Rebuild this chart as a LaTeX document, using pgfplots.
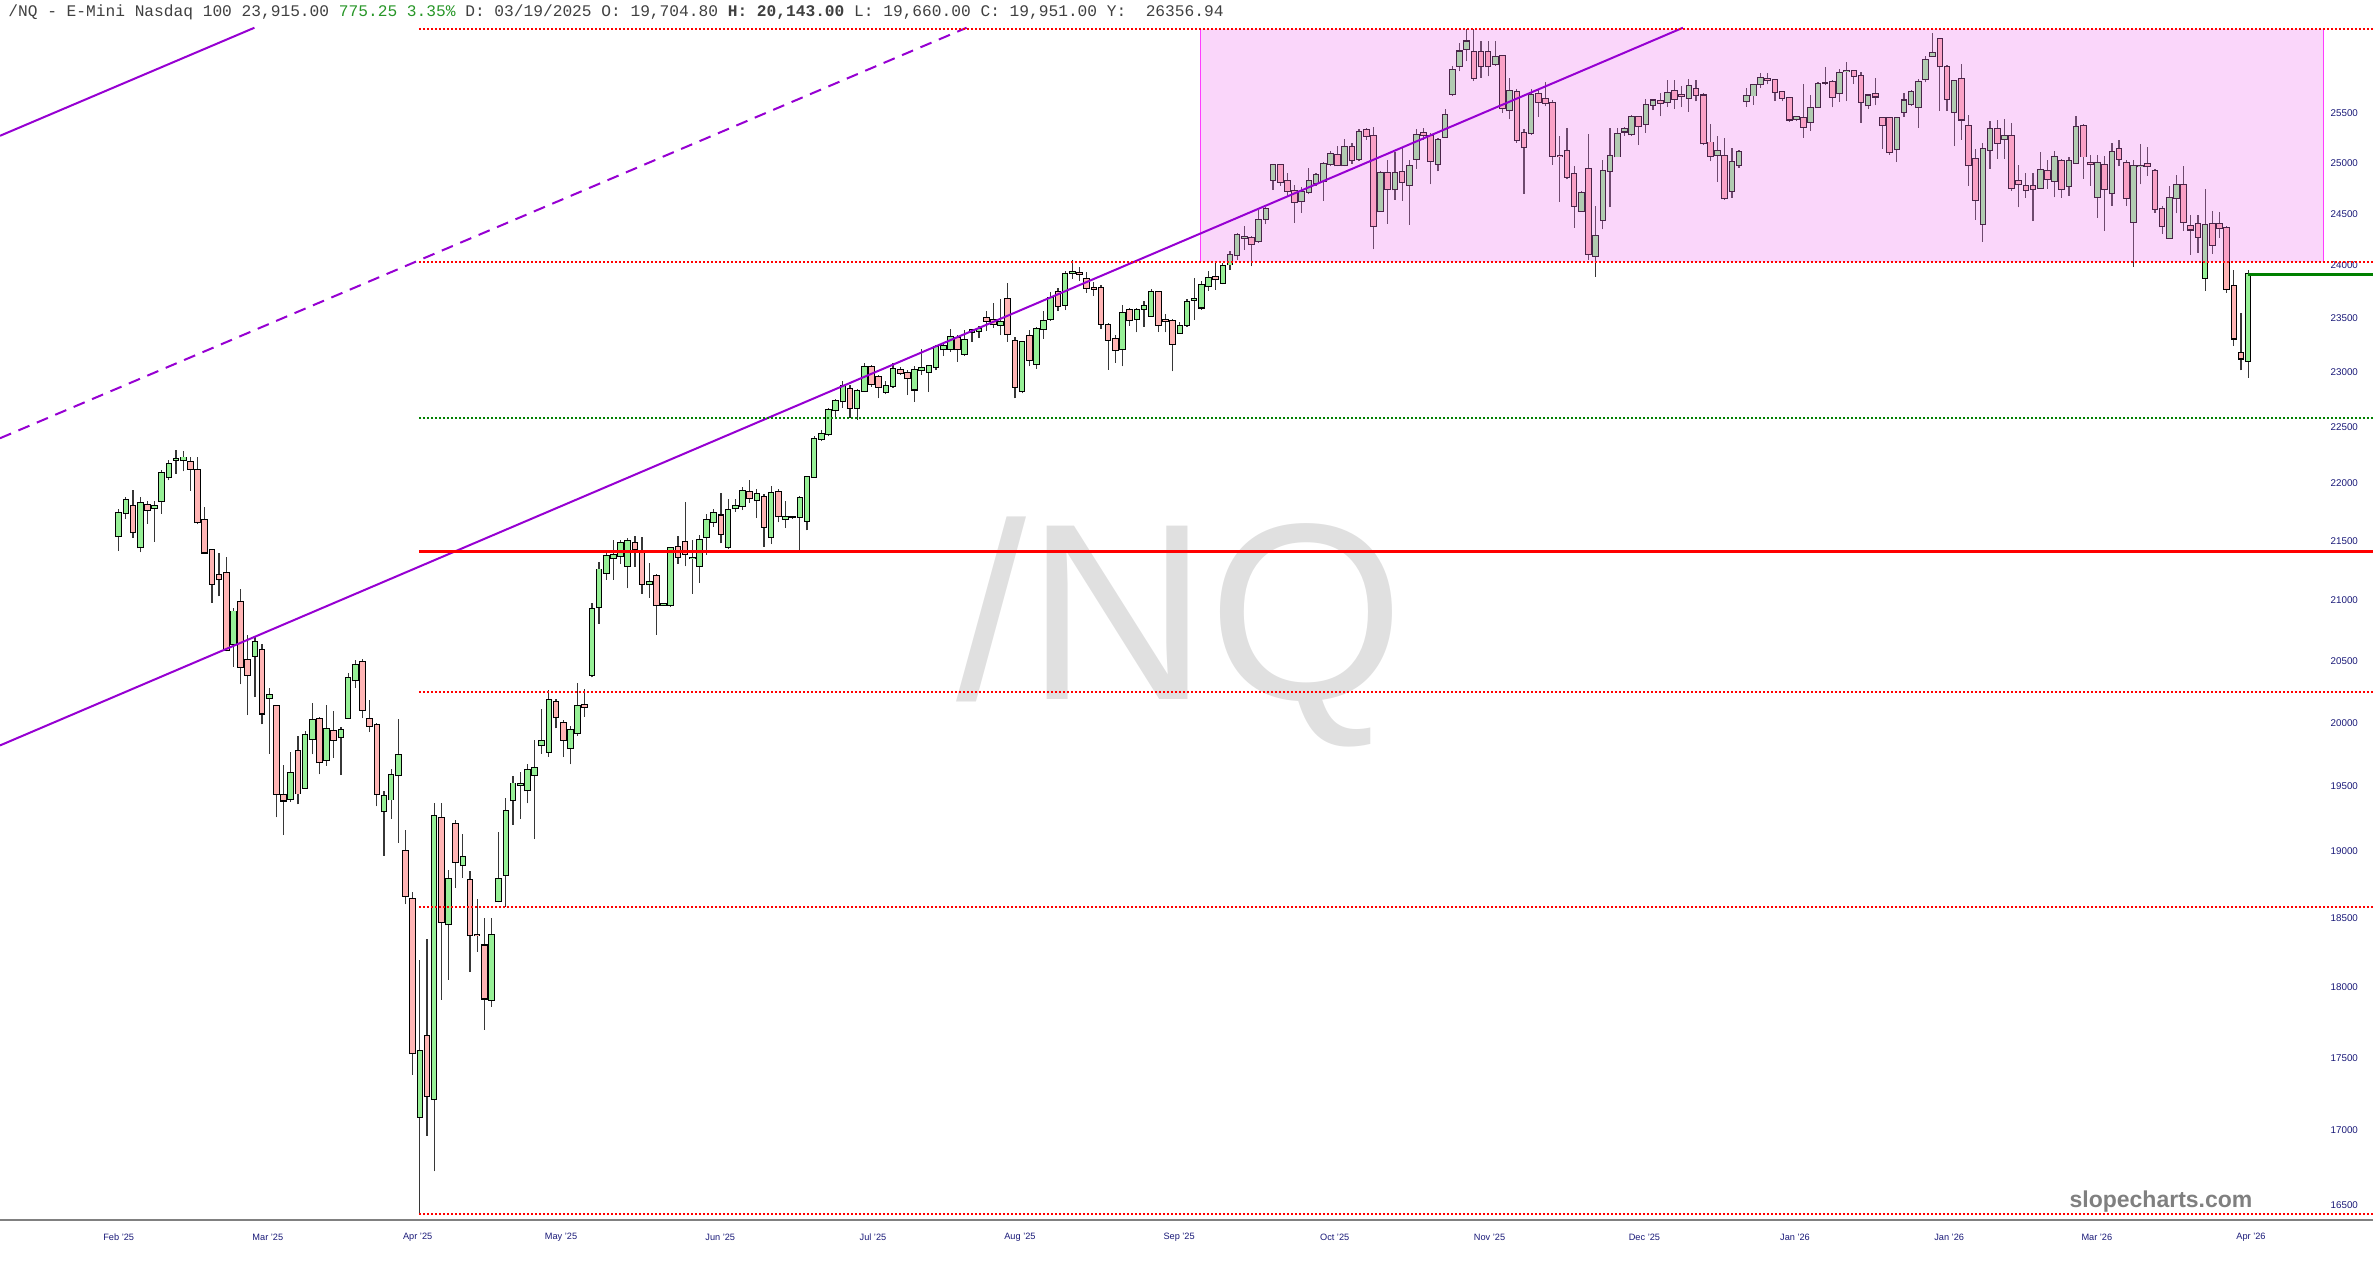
\documentclass[border=0pt]{standalone}
\usepackage{pgfplots}
\pgfplotsset{compat=1.18}
\usepackage{pgfplotstable}
\usepackage{fontspec}
\setmainfont{Liberation Sans}
\setmonofont{Liberation Mono}
\definecolor{upc}{RGB}{150,240,150}
\definecolor{dnc}{RGB}{255,180,180}
\definecolor{wickc}{RGB}{55,55,55}
\definecolor{purp}{RGB}{150,0,210}
\definecolor{navyl}{RGB}{25,25,120}
\definecolor{hgreen}{RGB}{40,150,40}
\definecolor{ovl}{RGB}{240,120,240}
\definecolor{lgreen}{RGB}{0,128,0}
\definecolor{magb}{RGB}{255,60,255}

\pgfplotstableread{
i o h l c
0 21545 21780 21415 21745
1 21747 21880 21693 21853
2 21800 21946 21530 21575
3 21448 21880 21404 21826
4 21813 21849 21651 21773
5 21790 21849 21495 21800
6 21849 22117 21737 22094
7 22054 22207 22027 22175
8 22210 22298 22085 22215
9 22207 22285 22108 22230
10 22194 22230 21937 22130
11 22121 22230 21645 21663
12 21685 21795 21396 21404
13 21425 21435 20978 21137
14 21214 21396 21033 21176
15 21232 21365 20576 20589
16 20636 20935 20451 20906
17 20986 21098 20307 20451
18 20509 20712 20060 20385
19 20542 20703 20203 20652
20 20589 20640 19986 20072
21 20199 20274 19753 20220
22 20130 20140 19261 19442
23 19430 19669 19124 19390
24 19403 19769 19380 19605
25 19773 19898 19360 19446
26 19488 19938 19484 19902
27 19873 20154 19749 20020
28 20027 20048 19592 19689
29 19705 20143 19660 19951
30 19934 20089 19724 19865
31 19886 19966 19588 19945
32 20039 20397 20031 20360
33 20340 20505 20278 20468
34 20492 20517 20035 20101
35 20031 20183 19926 19978
36 19982 19997 19347 19442
37 19307 19464 18969 19425
38 19398 19636 19249 19588
39 19588 20026 19065 19745
40 19003 19160 18603 18668
41 18641 18692 17381 17530
42 17090 18196 16445 17547
43 17652 18343 16961 17237
44 17213 19371 16723 19268
45 19253 19368 17909 18474
46 18455 18863 18054 18794
47 19210 19240 18729 18923
48 18896 19133 18801 18954
49 18785 18854 18106 18378
50 18380 18642 18252 18375
51 18300 18502 17694 17917
52 17907 18502 17858 18378
53 18627 19149 18617 18796
54 18822 19408 18587 19307
55 19393 19578 19204 19522
56 19510 19612 19245 19515
57 19469 19676 19368 19626
58 19590 19864 19095 19645
59 19822 20110 19752 19856
60 19772 20263 19732 20177
61 20166 20185 19957 20041
62 19998 20018 19729 19864
63 19799 19976 19673 19941
64 19920 20316 19898 20131
65 20140 20270 20046 20125
66 20383 20974 20364 20929
67 20940 21319 20802 21259
68 21232 21425 21174 21371
69 21361 21506 21174 21382
70 21371 21512 21304 21485
71 21292 21527 21099 21502
72 21487 21542 21282 21431
73 21400 21535 21054 21138
74 21135 21316 21023 21157
75 21205 21220 20714 20959
76 20960 20975 20950 20965
77 20959 21453 20944 21441
78 21454 21545 21308 21367
79 21491 21839 21285 21392
80 21355 21506 21054 21360
81 21289 21552 21145 21512
82 21536 21732 21385 21685
83 21667 21777 21623 21743
84 21722 21914 21481 21561
85 21452 21861 21431 21770
86 21784 21861 21753 21806
87 21806 21970 21768 21938
88 21923 22032 21830 21871
89 21854 21953 21699 21907
90 21886 21908 21452 21623
91 21536 21976 21475 21916
92 21930 21953 21661 21713
93 21692 21845 21613 21707
94 21707 21720 21695 21707
95 21707 21892 21415 21871
96 21674 22071 21593 22056
97 22056 22425 22056 22396
98 22396 22479 22375 22443
99 22443 22676 22419 22652
100 22652 22752 22584 22734
101 22734 22917 22676 22874
102 22847 22886 22584 22676
103 22676 22841 22568 22826
104 22826 23085 22817 23045
105 23045 23068 22866 22893
106 22953 22977 22760 22866
107 22820 22917 22796 22877
108 22871 23085 22857 23032
109 23020 23047 22977 22993
110 22993 23017 22790 22943
111 22841 23053 22732 23017
112 23017 23209 22977 23035
113 23000 23062 22817 23053
114 23048 23246 23017 23230
115 23209 23271 23147 23240
116 23215 23403 23184 23323
117 23317 23339 23094 23209
118 23169 23394 23147 23292
119 23369 23394 23280 23388
120 23378 23425 23317 23400
121 23503 23565 23378 23477
122 23480 23645 23410 23441
123 23434 23676 23342 23462
124 23683 23828 23280 23350
125 23289 23326 22760 22866
126 22826 23286 22805 23276
127 23332 23385 23053 23115
128 23076 23419 23030 23403
129 23403 23565 23308 23477
130 23495 23749 23477 23692
131 23745 23787 23565 23613
132 23622 23944 23575 23922
133 23929 24050 23872 23935
134 23925 23986 23850 23920
135 23872 23938 23740 23787
136 23787 23844 23707 23778
137 23787 23809 23398 23448
138 23438 23453 23023 23298
139 23308 23339 23085 23202
140 23209 23627 23053 23549
141 23581 23596 23430 23480
142 23490 23596 23366 23574
143 23588 23659 23418 23612
144 23524 23777 23518 23749
145 23745 23745 23370 23438
146 23487 23540 23366 23472
147 23472 23490 23007 23261
148 23361 23462 23361 23430
149 23438 23683 23419 23650
150 23672 23880 23487 23676
151 23600 23850 23580 23810
152 23800 23950 23760 23880
153 23885 24025 23770 23866
154 23834 24024 23818 23995
155 24008 24136 23960 24095
156 24095 24314 24056 24291
157 24265 24383 24150 24270
158 24265 24281 23990 24208
159 24233 24540 24218 24440
160 24450 24563 24395 24547
161 24833 24994 24735 24981
162 24977 24994 24772 24814
163 24824 24896 24676 24726
164 24726 24780 24411 24617
165 24627 24760 24508 24716
166 24716 24952 24688 24818
167 24804 24896 24776 24883
168 24824 25007 24627 24994
169 24994 25118 24967 25088
170 25081 25168 24967 24977
171 24977 25238 24967 25162
172 25162 25202 24994 25027
173 25040 25336 25017 25309
174 25329 25353 25235 25273
175 25273 25363 24152 24378
176 24523 24918 24517 24902
177 24895 25027 24404 24744
178 24737 25108 24636 24902
179 24915 25158 24627 24810
180 24780 25034 24392 24967
181 25040 25336 24943 25283
182 25300 25349 25235 25279
183 25273 25306 24787 25017
184 24994 25252 24917 25235
185 25262 25544 25262 25487
186 25702 25990 25676 25941
187 25986 26227 25932 26137
188 26165 26367 26035 26241
189 26133 26374 25829 25863
190 26133 26250 25863 25983
191 26133 26250 25880 25983
192 26010 26250 25990 26081
193 26088 26105 25504 25555
194 25531 25863 25437 25727
195 25717 25744 25202 25229
196 25296 25336 24695 25155
197 25303 25744 25283 25686
198 25697 25744 25464 25620
199 25645 25816 25570 25605
200 25605 25638 24984 25074
201 25074 25269 24617 25070
202 25118 25353 24836 24863
203 24886 24967 24363 24578
204 24530 24723 24523 24707
205 24943 25290 24056 24112
206 24093 24578 23891 24281
207 24442 25034 24347 24920
208 24920 25353 24560 25066
209 25064 25353 25057 25289
210 25316 25363 25272 25339
211 25286 25480 25272 25460
212 25460 25470 25178 25376
213 25393 25645 25306 25581
214 25587 25645 25531 25631
215 25625 25707 25470 25605
216 25611 25844 25564 25707
217 25727 25837 25544 25648
218 25686 25776 25564 25680
219 25658 25851 25514 25776
220 25750 25837 25621 25692
221 25682 25707 25178 25198
222 25205 25387 25017 25074
223 25084 25269 24810 25118
224 25074 25252 24636 24649
225 24726 25152 24656 25007
226 24984 25125 24952 25111
227 25625 25758 25564 25676
228 25682 25802 25587 25788
229 25802 25914 25758 25863
230 25850 25914 25795 25845
231 25845 25850 25630 25720
232 25720 25727 25621 25658
233 25658 25668 25413 25437
234 25446 25470 25420 25460
235 25453 25795 25252 25363
236 25413 25686 25319 25555
237 25561 25819 25555 25805
238 25815 25972 25785 25815
239 25819 25837 25561 25668
240 25707 25955 25617 25917
241 25930 26025 25625 25935
242 25932 25948 25805 25887
243 25880 25925 25404 25617
244 25580 25692 25543 25682
245 25695 25863 25580 25672
246 25450 25455 25140 25380
247 25450 25460 25084 25111
248 25135 25460 25010 25450
249 25513 25707 25464 25631
250 25591 25737 25577 25720
251 25564 25850 25353 25822
252 25850 26085 25816 26044
253 26085 26325 26085 26124
254 26263 26280 25526 25986
255 25976 26000 25526 25645
256 25513 25837 25168 25829
257 25856 26007 25235 25437
258 25373 25487 24772 24984
259 25040 25141 24442 24637
260 24403 25202 24227 25141
261 25131 25420 24943 25336
262 25343 25430 25040 25202
263 25242 25440 25040 25269
264 25269 25397 24726 24750
265 24824 24976 24560 24788
266 24772 24903 24656 24730
267 24770 24903 24426 24745
268 24755 25111 24740 24935
269 24925 25034 24745 24843
270 24824 25124 24660 25057
271 25017 25040 24656 24745
272 24770 25064 24676 25017
273 25000 25470 24994 25363
274 25373 25387 24843 25064
275 25000 25084 24772 24985
276 24667 25084 24459 25000
277 24984 25067 24333 24740
278 24700 25202 24578 25111
279 25141 25235 24967 25040
280 25000 25034 24578 24656
281 24422 25034 23982 24967
282 24965 25195 24787 24970
283 24990 25158 24872 24967
284 24920 24936 24508 24547
285 24547 24573 24305 24378
286 24265 24772 24258 24656
287 24656 24877 24501 24780
288 24780 24967 24333 24422
289 24378 24482 24104 24346
290 24402 24491 24121 24275
291 23881 24745 23760 24388
292 24402 24530 24110 24199
293 24402 24520 24265 24356
294 24356 24378 23737 23775
295 23800 23960 23239 23310
296 23175 23550 23015 23125
297 23100 23960 22950 23915
}\candles

\begin{document}
\begin{tikzpicture}
\useasboundingbox (0,0) rectangle (1186.5pt,630pt);
% watermark
\node[anchor=base, inner sep=0, font=\fontsize{126}{126}\selectfont, text=black!12] at (590pt,280pt) {/NQ};
\begin{axis}[
  at={(0pt,19.75pt)}, anchor=south west,
  scale only axis, width=1186.5pt, height=600.25pt,
  xmin=-16.555, xmax=314.41,
  ymode=log, ymin=16401.6, ymax=26471,
  enlargelimits=false,
  axis x line*=bottom, axis y line*=right,
  x axis line style={draw=gray, line width=1pt, -},
  y axis line style={draw=none},
  major tick length=0pt,
  xtick={0,20.8,41.7,61.7,83.9,105.2,125.7,147.9,169.6,191.2,212.8,233.8,255.3,275.9,297.4},
  xticklabels={Feb '25,Mar '25,Apr '25,May '25,Jun '25,Jul '25,Aug '25,Sep '25,Oct '25,Nov '25,Dec '25,Jan '26,Jan '26,Mar '26,Apr '26},
  xticklabel style={font=\fontsize{4.6}{5}\selectfont, text=navyl, anchor=center, yshift=-8.75pt},
  ytick={16500,17000,17500,18000,18500,19000,19500,20000,20500,21000,21500,22000,22500,23000,23500,24000,24500,25000,25500},
  yticklabels={16500,17000,17500,18000,18500,19000,19500,20000,20500,21000,21500,22000,22500,23000,23500,24000,24500,25000,25500},
  yticklabel style={font=\fontsize{4.9}{5}\selectfont, text=navyl, anchor=east, xshift=-4pt},
]
% wicks
\addplot[draw=none, mark=none, error bars/.cd, y dir=plus, y explicit, error mark=none,
  error bar style={draw=wickc, line width=0.6pt}]
  table[x=i, y=l, y error plus expr=\thisrow{h}-\thisrow{l}] {\candles};
% up candles
\addplot[draw=none, mark=none, restrict expr to domain={\thisrow{c}-\thisrow{o}}{0:100000},
  error bars/.cd, y dir=plus, y explicit, error mark=none,
  error bar style={draw=black, line width=3.3pt}]
  table[x=i, y expr=\thisrow{o}*0.9996, y error plus expr=\thisrow{c}*1.0004-\thisrow{o}*0.9996] {\candles};
\addplot[draw=none, mark=none, restrict expr to domain={\thisrow{c}-\thisrow{o}}{0:100000},
  error bars/.cd, y dir=plus, y explicit, error mark=none,
  error bar style={draw=upc, line width=2.3pt}]
  table[x=i, y=o, y error plus expr=\thisrow{c}-\thisrow{o}] {\candles};
% down candles
\addplot[draw=none, mark=none, restrict expr to domain={\thisrow{o}-\thisrow{c}}{0.001:100000},
  error bars/.cd, y dir=plus, y explicit, error mark=none,
  error bar style={draw=black, line width=3.3pt}]
  table[x=i, y expr=\thisrow{c}*0.9996, y error plus expr=\thisrow{o}*1.0004-\thisrow{c}*0.9996] {\candles};
\addplot[draw=none, mark=none, restrict expr to domain={\thisrow{o}-\thisrow{c}}{0.001:100000},
  error bars/.cd, y dir=plus, y explicit, error mark=none,
  error bar style={draw=dnc, line width=2.3pt}]
  table[x=i, y=c, y error plus expr=\thisrow{o}-\thisrow{c}] {\candles};
% pink box
\addplot[draw=none, fill=ovl, fill opacity=0.3] coordinates {(150.9,24033) (307.5,24033) (307.5,26376) (150.9,26376)} -- cycle;
\addplot[magb, line width=0.75pt] coordinates {(150.9,24033) (150.9,26376)};
\addplot[magb, line width=0.75pt] coordinates {(307.5,24033) (307.5,26376)};
% channel lines
\addplot[purp, line width=1pt] coordinates {(-16.555,19820) (218.17,26386)};
\addplot[purp, line width=1pt, dash pattern=on 6pt off 4pt] coordinates {(-16.555,22401) (118.26,26386)};
\addplot[purp, line width=1pt] coordinates {(-16.555,25273) (18.93,26386)};
% horizontal levels
\addplot[red, line width=0.9pt, dash pattern=on 1pt off 1pt] coordinates {(41.88,26376) (314.41,26376)};
\addplot[red, line width=0.9pt, dash pattern=on 1pt off 1pt] coordinates {(41.88,24033) (314.41,24033)};
\addplot[lgreen, line width=0.9pt, dash pattern=on 1pt off 1pt] coordinates {(41.88,22584) (314.41,22584)};
\addplot[red, line width=1.2pt] coordinates {(41.88,21412) (314.41,21412)};
\addplot[red, line width=0.9pt, dash pattern=on 1pt off 1pt] coordinates {(41.88,20245) (314.41,20245)};
\addplot[red, line width=0.9pt, dash pattern=on 1pt off 1pt] coordinates {(41.88,18581) (314.41,18581)};
\addplot[red, line width=0.9pt, dash pattern=on 1pt off 1pt] coordinates {(41.88,16444) (314.41,16444)};
\addplot[lgreen, line width=1.5pt] coordinates {(297,23915) (314.41,23915)};
\end{axis}
\node[anchor=base west, inner sep=0, font=\fontsize{8.1}{10}\ttfamily, text=black!75] at (4pt,621.5pt)
 {/NQ - E-Mini Nasdaq 100 23,915.00 \textcolor{hgreen}{775.25 3.35\%} D: 03/19/2025 O: 19,704.80 \textbf{H: 20,143.00} L: 19,660.00 C: 19,951.00 Y:\ \ 26356.94};
\node[anchor=base, inner sep=0, font=\fontsize{11.5}{12}\selectfont\bfseries, text=black!50] at (1080.5pt,26.5pt) {slopecharts.com};
\end{tikzpicture}
\end{document}
